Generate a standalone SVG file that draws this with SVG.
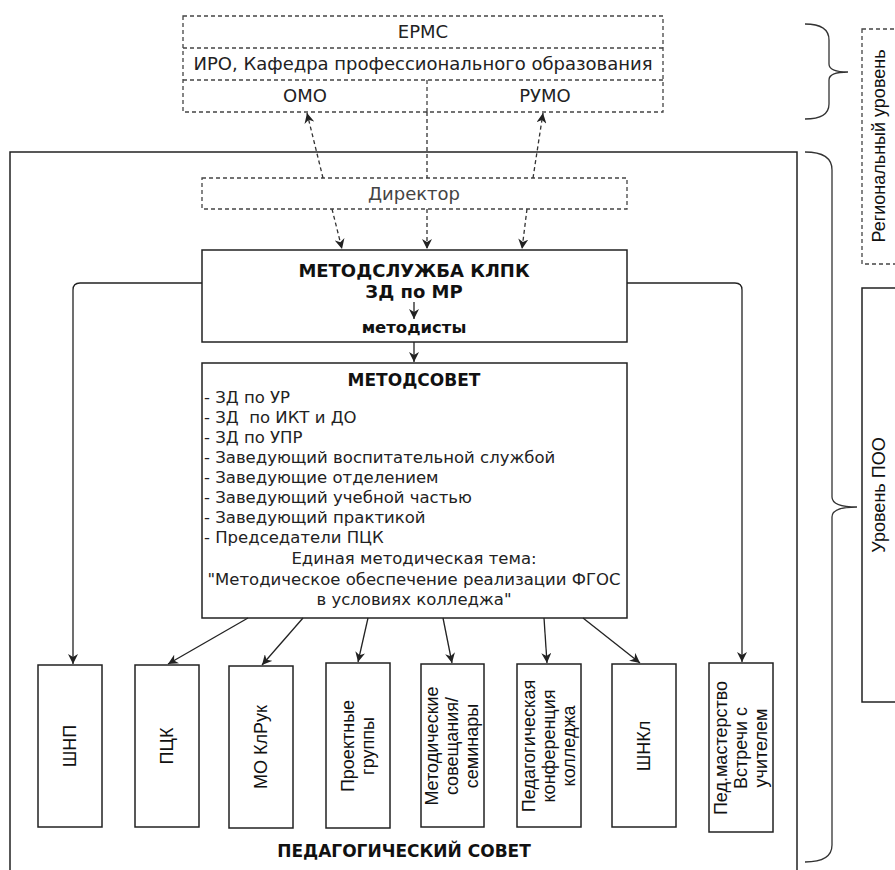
<svg xmlns="http://www.w3.org/2000/svg" width="895" height="870" viewBox="0 0 895 870">
<defs>
<marker id="arr" markerUnits="userSpaceOnUse" markerWidth="12" markerHeight="10" refX="10" refY="5" orient="auto"><path d="M0,0 L10,5 L0,10 L3,5 Z" fill="#222"/></marker>
</defs>
<style>
.box{fill:#fff;stroke:#222;stroke-width:1.5}
.obox{fill:none;stroke:#222;stroke-width:1.5}
.dbox{fill:#fff;stroke:#444;stroke-width:1.3;stroke-dasharray:4 3}
.dsep{fill:none;stroke:#444;stroke-width:1.3;stroke-dasharray:4 3}
.t{font-family:"DejaVu Sans",Verdana,sans-serif;fill:#222}
.g{fill:#444}
.b{font-weight:bold;fill:#111}
.r{font-family:"Liberation Sans",Arial,sans-serif;font-size:18px;fill:#111}
.ln{fill:none;stroke:#222;stroke-width:1.3}
.dl{fill:none;stroke:#333;stroke-width:1.3;stroke-dasharray:4 3}
.br{fill:none;stroke:#333;stroke-width:1.3}
</style>
<rect width="895" height="870" fill="#fff"/>

<g id="outer-box">
<rect class="obox" x="10" y="152" width="787" height="722"/>
<text class="t b" x="404" y="857" font-size="17" text-anchor="middle">ПЕДАГОГИЧЕСКИЙ СОВЕТ</text>
</g>

<g id="regional-bodies">
<rect class="dbox" x="183" y="16" width="480" height="96"/>
<line class="dsep" x1="183" y1="48" x2="663" y2="48"/>
<line class="dsep" x1="183" y1="80" x2="663" y2="80"/>
<line class="dsep" x1="427" y1="80" x2="427" y2="112"/>
<text class="t" x="423" y="38" font-size="18" text-anchor="middle">ЕРМС</text>
<text class="t" x="423" y="70" font-size="18" text-anchor="middle">ИРО, Кафедра профессионального образования</text>
<text class="t" x="305" y="102" font-size="18" text-anchor="middle">ОМО</text>
<text class="t" x="545" y="102" font-size="18" text-anchor="middle">РУМО</text>
</g>

<g id="director">
<rect class="dbox" x="202" y="178" width="425" height="31"/>
<text class="t g" x="414" y="200" font-size="18" text-anchor="middle">Директор</text>
</g>

<g id="metodsluzhba">
<rect class="box" x="202" y="250" width="425" height="92"/>
<text class="t b" x="414" y="277" font-size="18" text-anchor="middle">МЕТОДСЛУЖБА КЛПК</text>
<text class="t b" x="414" y="298" font-size="18" text-anchor="middle">ЗД по МР</text>
<text class="t b" x="414" y="333" font-size="16.5" text-anchor="middle">методисты</text>
</g>

<g id="metodsovet">
<rect class="box" x="202" y="363" width="425" height="255"/>
<text class="t b" x="414" y="386" font-size="17" text-anchor="middle">МЕТОДСОВЕТ</text>
<g class="t" font-size="16.5">
<text x="204" y="403">- ЗД по УР</text>
<text x="204" y="423" xml:space="preserve">- ЗД  по ИКТ и ДО</text>
<text x="204" y="443">- ЗД по УПР</text>
<text x="204" y="463">- Заведующий воспитательной службой</text>
<text x="204" y="483">- Заведующие отделением</text>
<text x="204" y="503">- Заведующий учебной частью</text>
<text x="204" y="523">- Заведующий практикой</text>
<text x="204" y="543">- Председатели ПЦК</text>
<text x="414" y="564" text-anchor="middle">Единая методическая тема:</text>
<text x="414" y="585" text-anchor="middle">"Методическое обеспечение реализации ФГОС</text>
<text x="414" y="605" text-anchor="middle">в условиях колледжа"</text>
</g>
</g>

<g id="shnp">
<rect class="box" x="38" y="665" width="64" height="162"/>
<text class="r" transform="translate(70,746) rotate(-90)" text-anchor="middle" y="6.3">ШНП</text>
</g>
<g id="pck">
<rect class="box" x="135" y="665" width="64" height="162"/>
<text class="r" transform="translate(167,746) rotate(-90)" text-anchor="middle" y="6.3">ПЦК</text>
</g>
<g id="mo-klruk">
<rect class="box" x="229" y="666" width="64" height="162"/>
<text class="r" transform="translate(261,747) rotate(-90)" text-anchor="middle" y="6.3">МО КлРук</text>
</g>
<g id="proektnye">
<rect class="box" x="326" y="663" width="64" height="165"/>
<text class="r" transform="translate(358,746) rotate(-90)" text-anchor="middle"><tspan x="0" y="-3.7">Проектные</tspan><tspan x="0" y="16.3">группы</tspan></text>
</g>
<g id="metod-soveshchaniya">
<rect class="box" x="421" y="664" width="63" height="163"/>
<text class="r" transform="translate(452,746) rotate(-90)" text-anchor="middle"><tspan x="0" y="-13.7">Методические</tspan><tspan x="0" y="6.3">совещания/</tspan><tspan x="0" y="26.3">семинары</tspan></text>
</g>
<g id="ped-konferenciya">
<rect class="box" x="517" y="664" width="64" height="163"/>
<text class="r" transform="translate(549,746) rotate(-90)" text-anchor="middle"><tspan x="0" y="-13.7">Педагогическая</tspan><tspan x="0" y="6.3">конференция</tspan><tspan x="0" y="26.3">колледжа</tspan></text>
</g>
<g id="shnkl">
<rect class="box" x="612" y="664" width="64" height="163"/>
<text class="r" transform="translate(644,746) rotate(-90)" text-anchor="middle" y="6.3">ШНКл</text>
</g>
<g id="ped-masterstvo">
<rect class="box" x="709" y="663" width="64" height="169"/>
<text class="r" transform="translate(741,748) rotate(-90)" text-anchor="middle"><tspan x="0" y="-13.7">Пед.мастерство</tspan><tspan x="0" y="6.3">Встречи с</tspan><tspan x="0" y="26.3">учителем</tspan></text>
</g>

<g id="regional-level">
<path class="br" d="M805,24 Q829,24 829,40 L829,64 Q829,72 848,72 Q829,72 829,80 L829,104 Q829,119 805,119"/>
<rect class="dbox" x="862" y="29" width="40" height="235"/>
<text class="r" transform="translate(879,146) rotate(-90)" text-anchor="middle" y="6.3">Региональный  уровень</text>
</g>

<g id="poo-level">
<path class="br" d="M805,152 Q832,152 832,170 L832,497 Q832,507 857,507 Q832,507 832,517 L832,845 Q832,862 805,862"/>
<rect class="box" x="862" y="288" width="40" height="414"/>
<text class="r" transform="translate(879,495) rotate(-90)" text-anchor="middle" y="6.3">Уровень  ПОО</text>
</g>

<g id="connectors">
<path class="dl" d="M323,178 L307,113" marker-end="url(#arr)"/>
<path class="dl" d="M533,178 L543,113" marker-end="url(#arr)"/>
<path class="dl" d="M427,112 V178"/>
<path class="dl" d="M427,209 V249" marker-end="url(#arr)"/>
<path class="dl" d="M332,209 L342,249" marker-end="url(#arr)"/>
<path class="dl" d="M527,209 L522,249" marker-end="url(#arr)"/>
<path class="ln" d="M414,302 V319" marker-end="url(#arr)"/>
<path class="ln" d="M414,342 V362" marker-end="url(#arr)"/>
<path class="ln" d="M202,283 H80 Q73,283 73,290 V664" marker-end="url(#arr)"/>
<path class="ln" d="M627,283 H735 Q742,283 742,290 V662" marker-end="url(#arr)"/>
<path class="ln" d="M248,618 L168,664" marker-end="url(#arr)"/>
<path class="ln" d="M303,618 L262,665" marker-end="url(#arr)"/>
<path class="ln" d="M368,618 L358,662" marker-end="url(#arr)"/>
<path class="ln" d="M443,618 L452,663" marker-end="url(#arr)"/>
<path class="ln" d="M544,618 L547,663" marker-end="url(#arr)"/>
<path class="ln" d="M583,618 L640,663" marker-end="url(#arr)"/>
</g>
</svg>
